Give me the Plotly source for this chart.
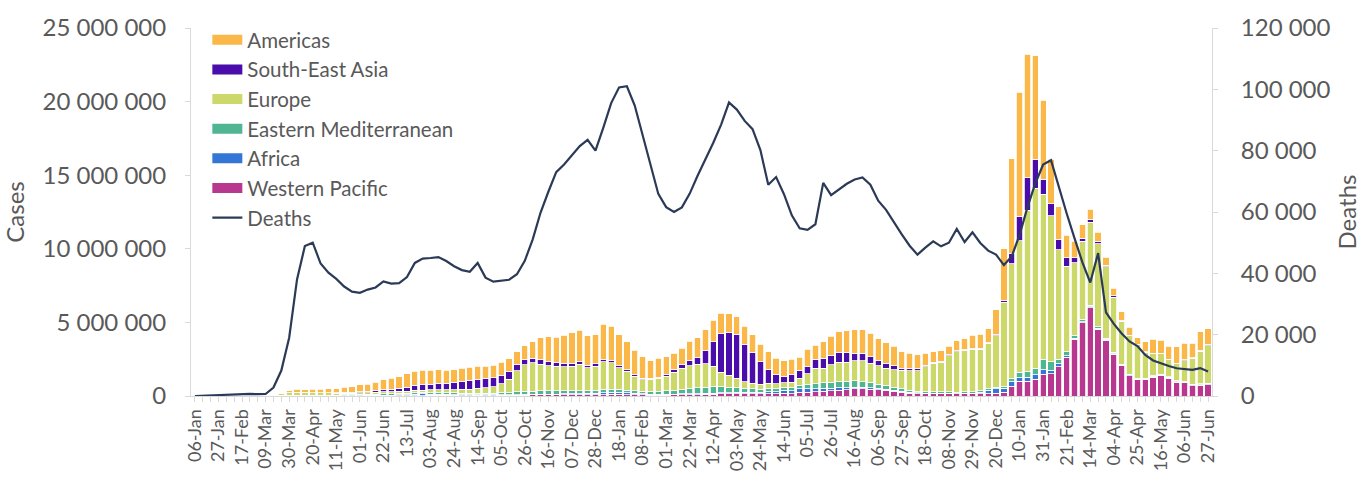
import numpy as np
import pandas as pd
import plotly.graph_objects as go

# ---- categories: weekly, 06-Jan-2020 .. 27-Jun-2022 (130 weeks)
weeks = pd.date_range("2020-01-06", periods=130, freq="7D").strftime("%d-%b-%Y").tolist()

TICK_LABELS = ["06-Jan", "27-Jan", "17-Feb", "09-Mar", "30-Mar", "20-Apr", "11-May", "01-Jun",
               "22-Jun", "13-Jul", "03-Aug", "24-Aug", "14-Sep", "05-Oct", "26-Oct", "16-Nov",
               "07-Dec", "28-Dec", "18-Jan", "08-Feb", "01-Mar", "22-Mar", "12-Apr", "03-May",
               "24-May", "14-Jun", "05-Jul", "26-Jul", "16-Aug", "06-Sep", "27-Sep", "18-Oct",
               "08-Nov", "29-Nov", "20-Dec", "10-Jan", "31-Jan", "21-Feb", "14-Mar", "04-Apr",
               "25-Apr", "16-May", "06-Jun", "27-Jun"]

# ---- weekly cases by WHO region (millions)
western_pacific_m = [
    0, 0, 0.003, 0.012, 0.02, 0.022, 0.015, 0.008, 0.004, 0.004,
    0.008, 0.01, 0.015, 0.015, 0.01, 0.01, 0.01, 0.008, 0.008, 0.008,
    0.007, 0.008, 0.01, 0.01, 0.01, 0.01, 0.015, 0.02, 0.025, 0.03,
    0.035, 0.04, 0.04, 0.04, 0.03, 0.03, 0.04, 0.03, 0.03, 0.04,
    0.04, 0.06, 0.06, 0.07, 0.07, 0.07, 0.07, 0.07, 0.08, 0.08,
    0.09, 0.09, 0.09, 0.12, 0.12, 0.1, 0.08, 0.07, 0.06, 0.06,
    0.06, 0.07, 0.08, 0.09, 0.1, 0.12, 0.13, 0.14, 0.15, 0.16,
    0.17, 0.17, 0.15, 0.16, 0.14, 0.18, 0.17, 0.25, 0.25, 0.28,
    0.33, 0.35, 0.4, 0.44, 0.48, 0.48, 0.46, 0.42, 0.38, 0.32,
    0.26, 0.2, 0.17, 0.15, 0.15, 0.15, 0.15, 0.14, 0.14, 0.14,
    0.15, 0.17, 0.2, 0.26, 0.66, 0.99, 0.99, 1.15, 1.49, 1.51,
    2.0, 2.63, 3.84, 4.98, 5.99, 4.53, 3.79, 2.83, 2.05, 1.38,
    1.11, 1.11, 1.29, 1.38, 1.22, 0.93, 0.89, 0.7, 0.72, 0.77]

africa_m = [
    0, 0, 0, 0, 0, 0, 0, 0, 0, 0,
    0.001, 0.002, 0.002, 0.003, 0.003, 0.005, 0.007, 0.008, 0.01, 0.012,
    0.015, 0.02, 0.025, 0.03, 0.04, 0.05, 0.06, 0.07, 0.1, 0.11,
    0.1, 0.08, 0.07, 0.06, 0.05, 0.05, 0.04, 0.04, 0.04, 0.04,
    0.03, 0.04, 0.05, 0.05, 0.05, 0.05, 0.06, 0.07, 0.08, 0.08,
    0.1, 0.11, 0.12, 0.13, 0.14, 0.12, 0.1, 0.08, 0.07, 0.06,
    0.06, 0.06, 0.06, 0.06, 0.07, 0.07, 0.07, 0.07, 0.08, 0.08,
    0.08, 0.09, 0.1, 0.14, 0.16, 0.2, 0.2, 0.25, 0.25, 0.22,
    0.2, 0.18, 0.15, 0.13, 0.12, 0.1, 0.1, 0.09, 0.08, 0.07,
    0.06, 0.05, 0.04, 0.03, 0.03, 0.03, 0.03, 0.03, 0.04, 0.05,
    0.12, 0.22, 0.3, 0.28, 0.3, 0.25, 0.3, 0.28, 0.28, 0.25,
    0.18, 0.12, 0.1, 0.08, 0.07, 0.06, 0.06, 0.05, 0.05, 0.05,
    0.04, 0.04, 0.04, 0.04, 0.04, 0.04, 0.04, 0.05, 0.05, 0.05]

eastern_med_m = [
    0, 0, 0, 0, 0, 0, 0, 0, 0.005, 0.02,
    0.03, 0.03, 0.03, 0.03, 0.03, 0.03, 0.035, 0.04, 0.045, 0.05,
    0.06, 0.08, 0.08, 0.09, 0.1, 0.11, 0.11, 0.11, 0.11, 0.1,
    0.1, 0.11, 0.11, 0.11, 0.11, 0.11, 0.11, 0.12, 0.12, 0.14,
    0.14, 0.18, 0.2, 0.22, 0.23, 0.23, 0.23, 0.22, 0.2, 0.2,
    0.18, 0.18, 0.2, 0.2, 0.2, 0.18, 0.17, 0.17, 0.18, 0.2,
    0.23, 0.27, 0.3, 0.33, 0.38, 0.42, 0.45, 0.42, 0.38, 0.33,
    0.28, 0.24, 0.2, 0.2, 0.2, 0.2, 0.2, 0.22, 0.27, 0.32,
    0.36, 0.4, 0.42, 0.43, 0.42, 0.4, 0.36, 0.3, 0.26, 0.22,
    0.18, 0.15, 0.13, 0.12, 0.1, 0.1, 0.1, 0.1, 0.1, 0.1,
    0.1, 0.1, 0.11, 0.12, 0.22, 0.36, 0.4, 0.47, 0.68, 0.56,
    0.3, 0.25, 0.18, 0.15, 0.12, 0.1, 0.09, 0.08, 0.07, 0.06,
    0.05, 0.05, 0.05, 0.05, 0.05, 0.05, 0.05, 0.05, 0.05, 0.05]

europe_m = [
    0, 0, 0, 0, 0, 0, 0, 0, 0.005, 0.03,
    0.09, 0.1, 0.18, 0.2, 0.19, 0.18, 0.16, 0.15, 0.14, 0.13,
    0.12, 0.11, 0.11, 0.12, 0.13, 0.13, 0.13, 0.14, 0.15, 0.16,
    0.18, 0.2, 0.21, 0.23, 0.26, 0.28, 0.34, 0.37, 0.45, 0.6,
    0.94, 1.45, 1.8, 1.92, 1.82, 1.72, 1.66, 1.64, 1.67, 1.79,
    1.56, 1.65, 1.92, 1.8, 1.46, 1.28, 0.99, 0.8, 0.82, 0.88,
    0.99, 1.23, 1.45, 1.57, 1.61, 1.59, 1.38, 1.0, 0.8, 0.62,
    0.43, 0.37, 0.35, 0.36, 0.32, 0.32, 0.37, 0.5, 0.74, 1.07,
    1.0, 1.18, 1.33, 1.3, 1.38, 1.42, 1.31, 1.24, 1.17, 1.17,
    1.25, 1.33, 1.38, 1.7, 1.95, 2.02, 2.44, 2.74, 2.84, 2.88,
    2.8, 3.08, 3.49, 5.7, 7.8, 8.95, 10.94, 12.23, 11.26, 9.93,
    7.47, 5.83, 4.93, 5.29, 5.62, 5.66, 4.84, 3.75, 2.9, 2.59,
    2.28, 1.76, 1.48, 1.39, 1.15, 1.17, 1.43, 1.75, 2.23, 2.53]

south_east_asia_m = [
    0, 0, 0, 0, 0, 0, 0, 0, 0, 0,
    0.001, 0.002, 0.003, 0.005, 0.007, 0.01, 0.015, 0.02, 0.025, 0.04,
    0.05, 0.075, 0.1, 0.12, 0.14, 0.17, 0.21, 0.27, 0.33, 0.37,
    0.4, 0.42, 0.44, 0.48, 0.54, 0.58, 0.62, 0.63, 0.6, 0.58,
    0.52, 0.4, 0.34, 0.32, 0.28, 0.27, 0.24, 0.22, 0.2, 0.17,
    0.16, 0.15, 0.14, 0.13, 0.15, 0.1, 0.1, 0.1, 0.09, 0.09,
    0.1, 0.15, 0.22, 0.35, 0.47, 0.87, 1.65, 2.61, 2.9, 3.0,
    2.56, 2.07, 1.54, 0.92, 0.62, 0.45, 0.5, 0.51, 0.49, 0.61,
    0.67, 0.67, 0.64, 0.64, 0.5, 0.5, 0.44, 0.35, 0.34, 0.27,
    0.15, 0.12, 0.12, 0.08, 0.08, 0.07, 0.07, 0.07, 0.06, 0.06,
    0.06, 0.06, 0.05, 0.12, 0.71, 1.63, 2.19, 1.96, 1.0, 0.82,
    0.67, 0.55, 0.33, 0.22, 0.16, 0.15, 0.11, 0.1, 0.06, 0.05,
    0.04, 0.04, 0.04, 0.04, 0.04, 0.04, 0.04, 0.05, 0.06, 0.08]

americas_m = [
    0, 0, 0, 0, 0, 0, 0, 0, 0, 0.001,
    0.02, 0.06, 0.14, 0.19, 0.2, 0.22, 0.23, 0.25, 0.27, 0.35,
    0.37, 0.47, 0.49, 0.56, 0.67, 0.75, 0.8, 0.9, 0.98, 0.98,
    0.95, 0.92, 0.88, 0.86, 0.9, 0.9, 0.88, 0.84, 0.84, 0.9,
    0.86, 0.89, 0.98, 1.12, 1.5, 1.67, 1.72, 1.91, 2.08, 2.14,
    1.99, 1.99, 2.42, 2.35, 2.1, 1.9, 1.68, 1.45, 1.16, 1.27,
    1.23, 1.12, 1.12, 1.32, 1.34, 1.44, 1.45, 1.38, 1.27, 1.21,
    1.21, 1.23, 1.16, 1.22, 1.12, 1.05, 1.06, 0.9, 1.17, 0.96,
    1.12, 1.28, 1.41, 1.48, 1.61, 1.59, 1.61, 1.5, 1.38, 1.34,
    1.11, 1.05, 0.95, 0.82, 0.7, 0.7, 0.6, 0.67, 0.72, 0.9,
    0.96, 0.95, 1.7, 3.52, 6.42, 8.44, 8.39, 7.01, 5.37, 3.03,
    2.23, 1.53, 1.12, 0.9, 0.74, 0.61, 0.54, 0.52, 0.6, 0.55,
    0.45, 0.68, 0.96, 0.89, 0.89, 1.11, 1.12, 1.0, 1.24, 1.1]

deaths = [
    0, 100, 210, 315, 430, 640, 795, 690, 590, 660,
    2750, 8300, 19000, 38000, 48900, 50000, 43200, 40200, 38200, 35700,
    34050, 33650, 34700, 35400, 37350, 36650, 36800, 38800, 43400, 44800,
    45000, 45300, 44000, 42300, 41050, 40500, 43400, 38600, 37300, 37500,
    37900, 39700, 44100, 51000, 59750, 66600, 73000, 75500, 78500, 81500,
    83500, 80000, 87500, 95500, 100600, 101000, 94700, 84800, 75100, 65900,
    61600, 60000, 61500, 66000, 71800, 77000, 82600, 88500, 95700, 93400,
    89700, 87000, 80200, 68900, 71400, 65800, 58900, 54700, 54200, 56000,
    69500, 65500, 67500, 69200, 70600, 71300, 68900, 63700, 60700, 56500,
    52700, 49000, 46100, 48400, 50400, 48800, 50000, 54500, 50200, 53400,
    49900, 47400, 46100, 42700, 45500, 52500, 61500, 69300, 75500, 76900,
    67900, 59500, 51400, 43600, 37000, 46600, 27300, 23500, 20400, 17800,
    16300, 13400, 11600, 10600, 9800, 9050, 8750, 8550, 9100, 8000]

# ---- series definition (bottom of stack first)
series = [
    ("Western Pacific", western_pacific_m, "#B8378F", 6),
    ("Africa", africa_m, "#3476D6", 5),
    ("Eastern Mediterranean", eastern_med_m, "#4FB593", 4),
    ("Europe", europe_m, "#CCD96A", 3),
    ("South-East Asia", south_east_asia_m, "#4A0CAA", 2),
    ("Americas", americas_m, "#FBB848", 1),
]

TEXT = "#595959"
AXIS = "#D9D9D9"
FONT = "Lato, 'Open Sans', sans-serif"

fig = go.Figure()
for name, vals, color, rank in series:
    fig.add_trace(go.Bar(
        x=weeks, y=np.array(vals) * 1_000_000, name=name,
        marker=dict(color=color, line=dict(color="white", width=0.8)),
        showlegend=False, yaxis="y"))

# legend keys (wide colour swatches like the reference)
for name, vals, color, rank in series:
    fig.add_trace(go.Scatter(
        x=[None], y=[None], mode="lines", name=name,
        line=dict(color=color, width=11), legendrank=rank,
        hoverinfo="skip", yaxis="y"))

fig.add_trace(go.Scatter(
    x=weeks, y=deaths, name="Deaths", mode="lines",
    line=dict(color="#2B3A57", width=2.2), yaxis="y2", legendrank=7))

ticktext = [TICK_LABELS[i // 3] if i % 3 == 0 else "" for i in range(len(weeks))]

fig.update_layout(
    width=1370, height=483,
    margin=dict(l=191, r=158, t=24, b=86.5),
    paper_bgcolor="white", plot_bgcolor="white",
    barmode="stack", bargap=0.2,
    separators=". ",
    font=dict(family=FONT, color=TEXT, size=20),
    showlegend=True,
    legend=dict(x=0.016, y=1.022, xanchor="left", yanchor="top", traceorder="normal",
                bgcolor="rgba(255,255,255,0)", font=dict(size=20.5, color=TEXT),
                tracegroupgap=0, itemwidth=30),
    xaxis=dict(type="category", tickmode="array", tickvals=weeks, ticktext=ticktext,
               tickangle=-90, tickfont=dict(size=18, color=TEXT),
               ticks="outside", ticklen=5, tickcolor=AXIS,
               showline=True, linecolor=AXIS, linewidth=1,
               showgrid=False, range=[-0.5, 129.5]),
    yaxis=dict(range=[0, 25_000_000], dtick=5_000_000, tickformat=",d",
               tickfont=dict(size=24, color=TEXT), ticklabelstandoff=14,
               title=dict(text="Cases", font=dict(size=24, color=TEXT), standoff=14),
               ticks="outside", ticklen=5, tickcolor=AXIS,
               showline=True, linecolor=AXIS, showgrid=False, zeroline=False),
    yaxis2=dict(range=[0, 120_000], dtick=20_000, tickformat=",d",
                overlaying="y", side="right",
                tickfont=dict(size=24, color=TEXT), ticklabelstandoff=18,
                title=dict(text="Deaths", font=dict(size=24, color=TEXT), standoff=9),
                ticks="outside", ticklen=5, tickcolor=AXIS,
                showline=True, linecolor=AXIS, showgrid=False, zeroline=False),
)

fig.write_html("out.html", config={"displayModeBar": False},
               post_script="document.body.style.margin='0px';")
